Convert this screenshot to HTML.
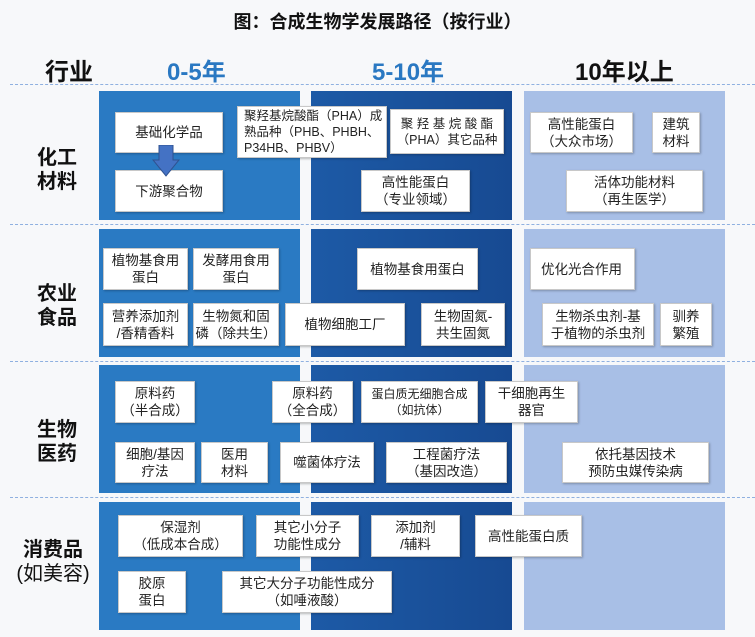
<!DOCTYPE html>
<html><head><meta charset="utf-8"><style>
body{margin:0;width:755px;height:637px;background:#f7f8fa;position:relative;overflow:hidden;font-family:"Liberation Sans","Noto Sans CJK SC",sans-serif;}
.a{position:absolute;}
.col{position:absolute;}
.c1{background:#2a7ac3;left:99px;width:201px;}
.c2{background:linear-gradient(90deg,#1d5aa6,#174a92);left:311px;width:201px;}
.c3{background:#a8bfe6;left:524px;width:201px;}
.b{position:absolute;background:#fff;border:1px solid #c8c8c8;box-sizing:border-box;display:flex;align-items:center;justify-content:center;text-align:center;font-size:13.5px;line-height:17px;color:#222;box-shadow:1px 1px 2px rgba(0,0,0,.25);}
.dl{position:absolute;left:10px;width:745px;border-top:1px dashed #8fb0e0;height:0;}
.h{position:absolute;font-weight:bold;font-size:24px;}
.rl{position:absolute;font-weight:bold;font-size:20px;line-height:24px;text-align:center;color:#111;}
</style></head><body>
<div class="a" style="left:0;top:8px;width:755px;text-align:center;font-weight:bold;font-size:18px;color:#111;">图：合成生物学发展路径（按行业）</div>
<div class="h" style="left:45px;top:52px;color:#111;">行业</div>
<div class="h" style="left:167px;top:52px;color:#2a78c2;">0-5年</div>
<div class="h" style="left:372px;top:52px;color:#2a78c2;">5-10年</div>
<div class="h" style="left:575px;top:52px;color:#111;">10年以上</div>
<div class="dl" style="top:84px"></div>
<div class="dl" style="top:224px"></div>
<div class="dl" style="top:361px"></div>
<div class="dl" style="top:497px"></div>

<div class="col c1" style="top:91px;height:129px"></div>
<div class="col c2" style="top:91px;height:129px"></div>
<div class="col c3" style="top:91px;height:129px"></div>
<div class="col c1" style="top:229px;height:128px"></div>
<div class="col c2" style="top:229px;height:128px"></div>
<div class="col c3" style="top:229px;height:128px"></div>
<div class="col c1" style="top:365px;height:128px"></div>
<div class="col c2" style="top:365px;height:128px"></div>
<div class="col c3" style="top:365px;height:128px"></div>
<div class="col c1" style="top:502px;height:128px"></div>
<div class="col c2" style="top:502px;height:128px"></div>
<div class="col c3" style="top:502px;height:128px"></div>

<div class="rl" style="left:22px;top:146px;width:70px;">化工<br>材料</div>
<div class="rl" style="left:22px;top:282px;width:70px;">农业<br>食品</div>
<div class="rl" style="left:22px;top:418px;width:70px;">生物<br>医药</div>
<div class="rl" style="left:8px;top:538px;width:90px;">消费品<br><span style="font-weight:normal">(如美容)</span></div>

<div class="b" style="left:115px;top:112px;width:108px;height:41px;">基础化学品</div>
<div class="b" style="left:115px;top:170px;width:108px;height:42px;">下游聚合物</div>
<svg class="a" style="left:152px;top:145px" width="28" height="32"><polygon points="7,0 21,0 21,15 27,15 14,31 1,15 7,15" fill="#4472c4" stroke="#2f528f" stroke-width="1"/></svg>
<div class="b" style="left:237px;top:106px;width:150px;height:52px;text-align:left;justify-content:flex-start;padding-left:6px;font-size:12.5px;line-height:16px;">聚羟基烷酸酯（PHA）成<br>熟品种（PHB、PHBH、<br>P34HB、PHBV）</div>
<div class="b" style="left:390px;top:109px;width:114px;height:45px;font-size:12.5px;line-height:16px;">聚 羟 基 烷 酸 酯<br>（PHA）其它品种</div>
<div class="b" style="left:361px;top:170px;width:109px;height:42px;">高性能蛋白<br>（专业领域）</div>
<div class="b" style="left:530px;top:112px;width:103px;height:41px;">高性能蛋白<br>（大众市场）</div>
<div class="b" style="left:652px;top:112px;width:48px;height:41px;">建筑<br>材料</div>
<div class="b" style="left:566px;top:170px;width:137px;height:42px;">活体功能材料<br>（再生医学）</div>

<div class="b" style="left:103px;top:248px;width:85px;height:42px;">植物基食用<br>蛋白</div>
<div class="b" style="left:193px;top:248px;width:86px;height:42px;">发酵用食用<br>蛋白</div>
<div class="b" style="left:103px;top:303px;width:85px;height:43px;">营养添加剂<br>/香精香料</div>
<div class="b" style="left:193px;top:303px;width:86px;height:43px;">生物氮和固<br>磷（除共生）</div>
<div class="b" style="left:285px;top:303px;width:120px;height:43px;">植物细胞工厂</div>
<div class="b" style="left:421px;top:303px;width:84px;height:43px;">生物固氮-<br>共生固氮</div>
<div class="b" style="left:357px;top:248px;width:121px;height:42px;">植物基食用蛋白</div>
<div class="b" style="left:530px;top:248px;width:105px;height:42px;justify-content:flex-start;padding-left:10px;">优化光合作用</div>
<div class="b" style="left:542px;top:303px;width:112px;height:43px;">生物杀虫剂-基<br>于植物的杀虫剂</div>
<div class="b" style="left:660px;top:303px;width:52px;height:43px;">驯养<br>繁殖</div>

<div class="b" style="left:115px;top:381px;width:80px;height:42px;">原料药<br>（半合成）</div>
<div class="b" style="left:272px;top:381px;width:81px;height:42px;">原料药<br>（全合成）</div>
<div class="b" style="left:361px;top:381px;width:117px;height:42px;font-size:12px;line-height:16px;">蛋白质无细胞合成<br>（如抗体）</div>
<div class="b" style="left:485px;top:381px;width:93px;height:42px;">干细胞再生<br>器官</div>
<div class="b" style="left:115px;top:442px;width:80px;height:41px;">细胞/基因<br>疗法</div>
<div class="b" style="left:201px;top:442px;width:67px;height:41px;">医用<br>材料</div>
<div class="b" style="left:280px;top:442px;width:94px;height:41px;">噬菌体疗法</div>
<div class="b" style="left:386px;top:442px;width:121px;height:41px;">工程菌疗法<br>（基因改造）</div>
<div class="b" style="left:562px;top:442px;width:147px;height:41px;">依托基因技术<br>预防虫媒传染病</div>

<div class="b" style="left:118px;top:515px;width:125px;height:42px;">保湿剂<br>（低成本合成）</div>
<div class="b" style="left:256px;top:515px;width:103px;height:42px;">其它小分子<br>功能性成分</div>
<div class="b" style="left:371px;top:515px;width:89px;height:42px;">添加剂<br>/辅料</div>
<div class="b" style="left:475px;top:515px;width:107px;height:42px;">高性能蛋白质</div>
<div class="b" style="left:118px;top:571px;width:68px;height:42px;">胶原<br>蛋白</div>
<div class="b" style="left:222px;top:571px;width:170px;height:42px;">其它大分子功能性成分<br>（如唾液酸）</div>
</body></html>
